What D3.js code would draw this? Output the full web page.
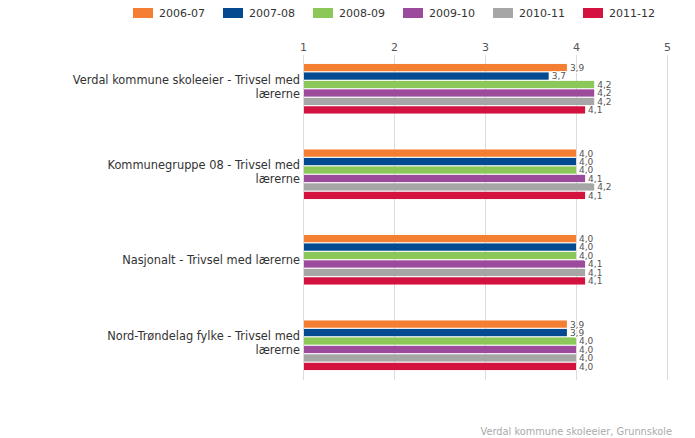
<!DOCTYPE html>
<html>
<head>
<meta charset="utf-8">
<script src="https://cdn.jsdelivr.net/npm/d3@7"></script>
<style>
  html, body { margin: 0; padding: 0; background: #fff; }
  svg { display: block; font-family: "DejaVu Sans", Verdana, sans-serif; }
</style>
</head>
<body>
<svg id="chart" width="695" height="438"></svg>
<script>
// ---- data ----
const categories = [
  "Verdal kommune skoleeier - Trivsel med lærerne",
  "Kommunegruppe 08 - Trivsel med lærerne",
  "Nasjonalt - Trivsel med lærerne",
  "Nord-Trøndelag fylke - Trivsel med lærerne"
];
const seriesNames = ["2006-07", "2007-08", "2008-09", "2009-10", "2010-11", "2011-12"];
const s2006_07 = [3.9, 4.0, 4.0, 3.9];
const s2007_08 = [3.7, 4.0, 4.0, 3.9];
const s2008_09 = [4.2, 4.0, 4.0, 4.0];
const s2009_10 = [4.2, 4.1, 4.1, 4.0];
const s2010_11 = [4.2, 4.2, 4.1, 4.0];
const s2011_12 = [4.1, 4.1, 4.1, 4.0];
const seriesValues = [s2006_07, s2007_08, s2008_09, s2009_10, s2010_11, s2011_12];
const seriesColors = ["#f47f32", "#034a91", "#8cc759", "#9c4a9b", "#a6a6a6", "#d3123f"];
const tickValues = [1, 2, 3, 4, 5];
const sourceText = "Verdal kommune skoleeier, Grunnskole";

// ---- chart ----
const svg = d3.select("#chart");
const fmt = v => d3.format(".1f")(v).replace(".", ",");

const x = d3.scaleLinear().domain([1, 5]).range([303, 667]);
const y0 = d3.scaleBand().domain(categories).range([46, 388]).paddingInner(0.42).paddingOuter(0.21);
const y1 = d3.scaleBand().domain(seriesNames).range([0, y0.bandwidth()]).paddingInner(0.14);
const color = d3.scaleOrdinal().domain(seriesNames).range(seriesColors);

// legend
const legend = svg.append("g");
seriesNames.forEach((name, i) => {
  const g = legend.append("g").attr("transform", `translate(${133 + i * 90},0)`);
  g.append("rect").attr("x", 0).attr("y", 8).attr("width", 20).attr("height", 10).attr("fill", color(name));
  g.append("text").attr("x", 26).attr("y", 17).attr("font-size", 11).attr("fill", "#333").text(name);
});

// grid + axis
const axis = d3.axisTop(x).tickValues(tickValues).tickSize(0).tickPadding(0).tickFormat(d3.format("d"));
const ax = svg.append("g").attr("transform", "translate(0,51)").call(axis);
ax.select(".domain").remove();
ax.selectAll("text").attr("font-size", 11).attr("fill", "#555").attr("font-family", "DejaVu Sans, sans-serif").attr("dy", 0);

svg.append("g").selectAll("line").data(tickValues).join("line")
  .attr("x1", d => Math.round(x(d)) + 0.5).attr("x2", d => Math.round(x(d)) + 0.5)
  .attr("y1", 55).attr("y2", 380)
  .attr("stroke", "#dcdcdc").attr("stroke-width", 1);

// bars
const groups = svg.append("g").selectAll("g").data(categories).join("g")
  .attr("transform", d => `translate(0,${y0(d)})`);

groups.each(function(cat, ci) {
  const g = d3.select(this);
  const items = seriesNames.map((s, si) => ({ s, v: seriesValues[si][ci] }));
  g.selectAll("rect").data(items).join("rect")
    .attr("x", x(1) + 1)
    .attr("y", d => y1(d.s))
    .attr("width", d => x(d.v) - x(1) - 1)
    .attr("height", y1.bandwidth())
    .attr("fill", d => color(d.s));
  g.selectAll("text.val").data(items).join("text")
    .attr("class", "val")
    .attr("x", d => x(d.v) + 3)
    .attr("y", d => y1(d.s) + y1.bandwidth() / 2)
    .attr("dy", "0.38em")
    .attr("font-size", 9)
    .attr("fill", "#555")
    .attr("stroke", "#fff").attr("stroke-width", 2).attr("paint-order", "stroke")
    .text(d => fmt(d.v));
});

// category labels (wrapped)
const labelG = svg.append("g");
categories.forEach(cat => {
  const cy = y0(cat) + y0.bandwidth() / 2;
  const t = labelG.append("text").attr("x", 300).attr("text-anchor", "end")
    .attr("font-size", 11.4).attr("fill", "#333");
  const words = cat.split(" ");
  const lines = [];
  let line = [];
  const probe = t.append("tspan");
  words.forEach(w => {
    line.push(w);
    probe.text(line.join(" "));
    if (probe.node().getComputedTextLength() > 238 && line.length > 1) {
      line.pop();
      lines.push(line.join(" "));
      line = [w];
    }
  });
  lines.push(line.join(" "));
  probe.remove();
  const lh = 14;
  const offset = lines.length > 1 ? -2 : 0;
  const startY = cy + offset - (lines.length - 1) * lh / 2;
  lines.forEach((l, i) => {
    t.append("tspan").attr("x", 300).attr("y", startY + i * lh).attr("dy", "0.35em").text(l);
  });
});

// source credit
svg.append("text").attr("x", 672).attr("y", 435).attr("text-anchor", "end")
  .attr("font-size", 9.8).attr("fill", "#aaa").text(sourceText);
</script>
</body>
</html>
